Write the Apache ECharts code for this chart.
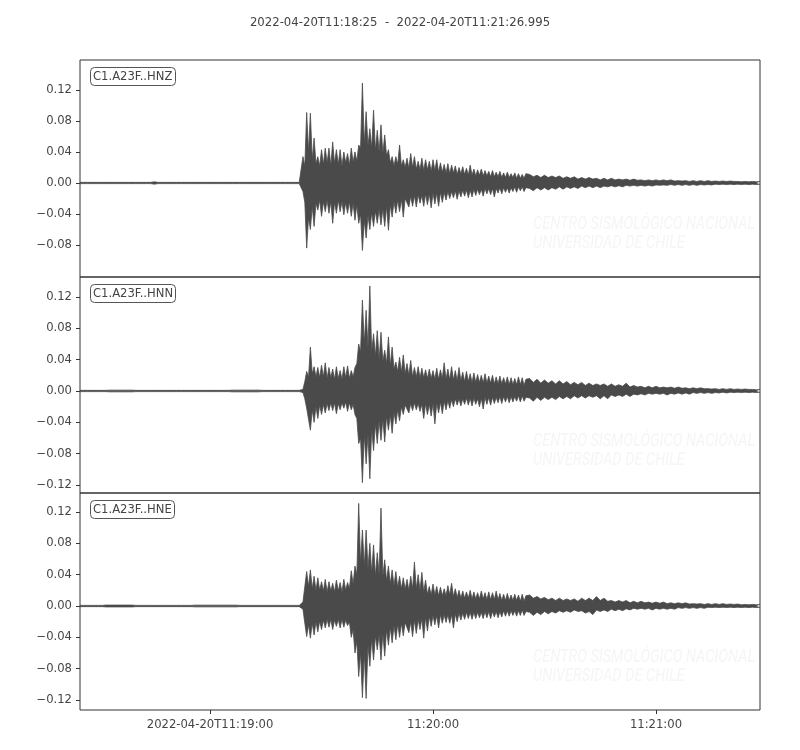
<!DOCTYPE html>
<html><head><meta charset="utf-8">
<script src="https://cdn.jsdelivr.net/npm/echarts@6/dist/echarts.min.js"></script>
<style>html,body{margin:0;padding:0;background:#fff}#c{width:800px;height:750px}</style>
</head><body><div id="c"></div>
<script>
// ---- DATA (amplitude peaks, in thousandths of the plotted unit) ----
const titleText = '2022-04-20T11:18:25  -  2022-04-20T11:21:26.995';
const traceNames = ['C1.A23F..HNZ', 'C1.A23F..HNN', 'C1.A23F..HNE'];
// sampling grid in seconds after 11:18:25: [from, to, step]
const sampleSegments = [[0, 57, 1], [58, 120, 0.5], [121, 183, 1]];
const durationSec = 182.995;
const xTickSec = [35, 95, 155];
const xTickLabels = ['2022-04-20T11:19:00', '11:20:00', '11:21:00'];
const yTicks1 = [-0.08, -0.04, 0, 0.04, 0.08, 0.12];
const yTicks2 = [-0.12, -0.08, -0.04, 0, 0.04, 0.08, 0.12];
const yTicks3 = [-0.12, -0.08, -0.04, 0, 0.04, 0.08, 0.12];
const yRange1 = [-0.1213, 0.1587];
const yRange2 = [-0.1302, 0.1455];
const yRange3 = [-0.1328, 0.1443];

const hnzUpper = [
0.8,0.8,0.8,0.8,0.8,0.8,0.8,0.8,0.8,0.8,
0.8,0.8,0.8,0.8,0.8,0.8,0.8,0.8,0.8,0.8,
1.5,0.8,0.8,0.8,0.8,0.8,0.8,0.8,0.8,0.8,
0.8,0.8,0.8,0.8,0.8,0.8,0.8,0.8,0.8,0.8,
0.8,0.8,0.8,0.8,0.8,0.8,0.8,0.8,0.8,0.8,
0.8,0.8,0.8,0.8,0.8,0.8,0.8,0.8,
0.8,0.8,0.8,3,34,22,91,40,90,30,
58,25,34,22,43,24,45,26,45,22,
53,25,43,24,43,22,40,26,38,23,
45,27,40,28,49,45,129,50,92,48,
70,45,94,42,68,40,75,38,62,35,
43,26,34,22,34,24,49,22,30,20,
32,19,38,20,34,18,28,17,32,16,
30,17,28,15,30,16,30,14,26,14,
24,13,25,12,23,13,22,11,20,12,
21,11,19,10,23,10,18,9,17,10,
18,9,16,9,15,8,16,8,14,8,
15,7,13,7,14,7,12,7,13,6,
12,6,11,6,12,
11,8,10,7,10,7,9,7,9,6,
8,6,8,5,7,5,7,5,6,4,
6,4,6,4,5,4,5,3.5,5,3.5,
4,3,4,3,4,3,4,3,4,2.5,
3,2.5,3,2,3,2,3,2,3,2,
2.5,2,2.5,2,2.5,2,2,1.5,2,1.5,
2,1.5,2];
const hnzLower = [
-0.8,-0.8,-0.8,-0.8,-0.8,-0.8,-0.8,-0.8,-0.8,-0.8,
-0.8,-0.8,-0.8,-0.8,-0.8,-0.8,-0.8,-0.8,-0.8,-0.8,
-1.5,-0.8,-0.8,-0.8,-0.8,-0.8,-0.8,-0.8,-0.8,-0.8,
-0.8,-0.8,-0.8,-0.8,-0.8,-0.8,-0.8,-0.8,-0.8,-0.8,
-0.8,-0.8,-0.8,-0.8,-0.8,-0.8,-0.8,-0.8,-0.8,-0.8,
-0.8,-0.8,-0.8,-0.8,-0.8,-0.8,-0.8,-0.8,
-0.8,-0.8,-0.8,-2,-11,-25,-84,-45,-60,-30,
-56,-26,-35,-22,-43,-24,-37,-22,-39,-24,
-52,-25,-39,-22,-37,-24,-41,-25,-39,-24,
-43,-26,-48,-28,-52,-40,-87,-48,-71,-42,
-60,-38,-56,-36,-52,-34,-54,-33,-56,-30,
-61,-28,-44,-24,-39,-22,-37,-21,-44,-20,
-18,-31,-17,-30,-16,-31,-15,-26,-16,-30,
-14,-28,-14,-32,-13,-27,-13,-30,-12,-25,
-12,-22,-11,-20,-11,-19,-10,-21,-10,-18,
-9,-17,-9,-19,-9,-18,-8,-16,-8,-15,
-8,-17,-7,-14,-7,-15,-7,-18,-7,-13,
-6,-14,-6,-12,-6,-13,-6,-11,-5,-12,
-5,-10,-5,-11,-6,
-7,-10,-6,-9,-6,-9,-6,-8,-5,-8,
-5,-7,-5,-7,-4,-6,-4,-6,-4,-6,
-4,-5,-3.5,-5,-3.5,-5,-3,-4,-3,-4,
-3,-4,-3,-4,-2.5,-3,-2.5,-3,-2,-3,
-2,-3,-2,-3,-2,-3,-2,-2.5,-2,-2.5,
-1.5,-2,-1.5,-2,-1.5,-2,-1.5,-2,-1.5,-2,
-1.5,-2,-1.5];

const hnnUpper = [
0.8,0.8,0.8,0.8,0.8,0.8,0.8,0.8,1.1,1.1,
1.1,1.1,1.1,1.1,1.1,0.8,0.8,0.8,0.8,0.8,
0.8,0.8,0.8,0.8,0.8,0.8,0.8,0.8,0.8,0.8,
0.8,0.8,0.8,0.8,0.8,0.8,0.8,0.8,0.8,0.8,
0.8,1.1,1.1,1.1,1.1,1.1,1.1,1.1,1.1,0.8,
0.8,0.8,0.8,0.8,0.8,0.8,0.8,0.8,
0.8,0.8,0.8,0.8,2,12,25,18,56,22,
31,18,30,17,33,18,36,16,30,17,
28,15,31,16,26,15,31,17,32,16,
26,18,30,35,60,50,116,60,103,55,
134,50,73,45,77,40,75,38,52,35,
69,32,56,28,37,25,43,24,46,22,
35,20,39,18,30,18,31,17,29,17,
27,16,28,16,26,15,29,15,27,16,
36,15,28,14,31,14,26,13,30,13,
24,12,25,12,22,11,23,11,21,11,
20,10,22,10,19,10,20,9,18,9,
19,9,17,9,18,8,17,8,16,8,
18,8,17,7,15,
16,11,15,10,14,10,13,9,13,9,
12,8,11,8,11,7,10,7,9,7,
9,6,9,6,8,6,10,5,7,5,
6,4,6,4,6,4,5,4,5,3.5,
5,3.5,4,3,4,3,4,3,3,2.5,
3,2,3,2,3,2,2.5,2,2.5,2,
2,1.5,2];
const hnnLower = [
-0.8,-0.8,-0.8,-0.8,-0.8,-0.8,-0.8,-0.8,-1.1,-1.1,
-1.1,-1.1,-1.1,-1.1,-1.1,-0.8,-0.8,-0.8,-0.8,-0.8,
-0.8,-0.8,-0.8,-0.8,-0.8,-0.8,-0.8,-0.8,-0.8,-0.8,
-0.8,-0.8,-0.8,-0.8,-0.8,-0.8,-0.8,-0.8,-0.8,-0.8,
-0.8,-1.1,-1.1,-1.1,-1.1,-1.1,-1.1,-1.1,-1.1,-0.8,
-0.8,-0.8,-0.8,-0.8,-0.8,-0.8,-0.8,-0.8,
-0.8,-0.8,-0.8,-0.8,-2,-10,-22,-20,-50,-24,
-40,-20,-35,-18,-30,-17,-28,-16,-25,-15,
-25,-15,-29,-16,-24,-15,-22,-14,-26,-15,
-24,-17,-30,-35,-67,-60,-117,-55,-93,-55,
-112,-48,-76,-42,-67,-38,-63,-36,-65,-32,
-50,-30,-54,-27,-42,-24,-38,-20,-30,-18,
-17,-28,-16,-25,-15,-24,-16,-26,-17,-35,
-16,-30,-17,-32,-16,-42,-15,-28,-14,-29,
-13,-24,-12,-22,-11,-20,-10,-18,-10,-19,
-10,-17,-9,-18,-9,-19,-9,-17,-10,-20,
-9,-23,-8,-17,-8,-18,-8,-16,-8,-15,
-7,-16,-7,-14,-7,-15,-7,-14,-7,-13,
-6,-14,-6,-13,-8,
-9,-13,-8,-12,-8,-11,-8,-11,-7,-10,
-7,-10,-6,-9,-6,-9,-6,-8,-6,-10,
-6,-10,-5,-7,-5,-7,-4,-7,-4,-5,
-3.5,-5,-3,-4,-3,-4,-3,-5,-3,-4,
-2.5,-4,-2.5,-4,-2,-3,-2,-3,-2,-3,
-2,-2.5,-1.5,-2.5,-1.5,-2,-1.5,-2,-1.5,-2,
-1.5,-2,-1.5];

const hneUpper = [
0.8,0.8,0.8,0.8,0.8,0.8,0.8,1.2,1.2,1.2,
1.2,1.2,1.2,1.2,1.2,0.8,0.8,0.8,0.8,0.8,
0.8,0.8,0.8,0.8,0.8,0.8,0.8,0.8,0.8,0.8,
0.8,1.1,1.1,1.1,1.1,1.1,1.1,1.1,1.1,1.1,
1.1,1.1,1.1,0.8,0.8,0.8,0.8,0.8,0.8,0.8,
0.8,0.8,0.8,0.8,0.8,0.8,0.8,0.8,
0.8,0.8,0.8,0.8,5,25,44,25,46,22,
38,20,36,20,31,19,34,18,31,19,
29,18,33,19,30,18,34,20,30,22,
45,28,51,40,131,55,97,50,97,48,
80,42,78,38,68,40,125,38,59,32,
51,28,46,26,44,24,38,22,36,21,
34,20,38,22,56,22,40,20,43,18,
33,15,25,14,28,14,25,13,24,13,
22,13,26,14,29,12,22,11,20,10,
19,10,18,10,20,9,18,9,17,9,
19,9,17,8,18,8,17,8,19,8,
16,7,15,7,16,7,14,7,15,7,
14,6,15,6,13,
14,10,12,9,11,8,10,7,10,7,
9,7,9,6,10,7,10,7,12,7,
10,6,7,5,7,5,7,4,6,4,
6,4,5,3.5,5,3.5,5,3,4,3,
4,3,4,2.5,3,2.5,3,2,3,2,
3,2,3,2,2.5,2,2.5,1.5,2,1.5,
2,1.5,2];
const hneLower = [
-0.8,-0.8,-0.8,-0.8,-0.8,-0.8,-0.8,-1.2,-1.2,-1.2,
-1.2,-1.2,-1.2,-1.2,-1.2,-0.8,-0.8,-0.8,-0.8,-0.8,
-0.8,-0.8,-0.8,-0.8,-0.8,-0.8,-0.8,-0.8,-0.8,-0.8,
-0.8,-1.1,-1.1,-1.1,-1.1,-1.1,-1.1,-1.1,-1.1,-1.1,
-1.1,-1.1,-1.1,-0.8,-0.8,-0.8,-0.8,-0.8,-0.8,-0.8,
-0.8,-0.8,-0.8,-0.8,-0.8,-0.8,-0.8,-0.8,
-0.8,-0.8,-0.8,-0.8,-4,-22,-39,-24,-41,-22,
-37,-20,-33,-19,-30,-18,-28,-17,-27,-17,
-30,-18,-26,-17,-28,-17,-27,-18,-25,-20,
-40,-30,-60,-45,-90,-60,-117,-60,-118,-50,
-77,-42,-69,-38,-56,-36,-69,-35,-64,-30,
-50,-27,-47,-25,-43,-23,-40,-22,-38,-21,
-20,-34,-20,-39,-18,-35,-17,-30,-16,-41,
-14,-32,-13,-26,-12,-24,-12,-28,-11,-22,
-11,-21,-11,-22,-11,-28,-10,-20,-9,-18,
-9,-17,-8,-16,-8,-17,-8,-16,-8,-15,
-8,-16,-7,-15,-7,-16,-7,-14,-7,-15,
-7,-14,-6,-13,-6,-13,-6,-12,-6,-13,
-6,-12,-5,-12,-7,
-8,-12,-8,-11,-7,-10,-7,-9,-6,-8,
-6,-8,-5,-7,-6,-9,-7,-11,-5,-7,
-5,-7,-4,-6,-4,-6,-3.5,-5,-3,-4,
-3,-4,-3,-5,-3,-4,-3,-4,-3,-4,
-2,-3,-2,-3,-2,-3,-2,-3,-1.5,-2,
-1.5,-2,-1.5,-2,-1.5,-2,-1.5,-2,-1.5,-2,
-1.5,-2,-1.5];

// ---- CHART ----
const sampleTimes = [];
sampleSegments.forEach(([a, b, s]) => { for (let t = a; t <= b + 1e-9; t += s) sampleTimes.push(+t.toFixed(3)); });

const traces = [
  {upper: hnzUpper, lower: hnzLower, ticks: yTicks1, range: yRange1},
  {upper: hnnUpper, lower: hnnLower, ticks: yTicks2, range: yRange2},
  {upper: hneUpper, lower: hneLower, ticks: yTicks3, range: yRange3}
];
const gridTops = [60, 277, 493];
const gridHeights = [217, 216, 217];
const waveColor = '#4a4a4a';
const textColor = '#444';
const font = 'DejaVu Sans';

function toPoints(arr) { return arr.map((v, i) => [sampleTimes[i], v / 1000]); }
function fmtY(v) {
  const s = Math.abs(v).toFixed(2);
  return v < -1e-9 ? '\u2212' + s : s;
}

// watermark text condensing
const wmFont = 'italic 18px Roboto';
const mctx = document.createElement('canvas').getContext('2d');
mctx.font = wmFont;
const wm1 = 'CENTRO SISMOLÓGICO NACIONAL', wm2 = 'UNIVERSIDAD DE CHILE';
const wmScale = 222 / mctx.measureText(wm1).width;

const chart = echarts.init(document.getElementById('c'), null, {renderer: 'canvas'});
const grids = [], xAxes = [], yAxes = [], series = [];
const titles = [{
  text: titleText, left: 'center', top: 12,
  textStyle: {fontSize: 11.7, fontWeight: 'normal', color: textColor, fontFamily: font}
}];
const graphics = [];

traces.forEach((tr, i) => {
  grids.push({left: 80, width: 680, top: gridTops[i], height: gridHeights[i],
    show: true, borderColor: '#333', borderWidth: 1, backgroundColor: 'transparent'});
  const last = i === 2;
  xAxes.push({
    gridIndex: i, type: 'value', min: 0, max: durationSec, position: 'bottom',
    axisLine: {show: false, onZero: false}, splitLine: {show: false},
    axisTick: {show: last, customValues: xTickSec, length: 4, lineStyle: {color: '#333'}},
    axisLabel: {show: last, customValues: xTickSec, color: textColor, fontSize: 11.6, fontFamily: font, margin: 9,
      formatter: v => xTickLabels[xTickSec.indexOf(Math.round(v))] || ''}
  });
  yAxes.push({
    gridIndex: i, type: 'value', min: tr.range[0], max: tr.range[1], position: 'left',
    axisLine: {show: false, onZero: false}, splitLine: {show: false},
    axisTick: {show: true, customValues: tr.ticks, length: 4, lineStyle: {color: '#333'}},
    axisLabel: {customValues: tr.ticks, color: textColor, fontSize: 11.6, fontFamily: font, margin: 8, formatter: fmtY}
  });
  [tr.upper, tr.lower].forEach(arr => {
    series.push({
      type: 'line', xAxisIndex: i, yAxisIndex: i, data: toPoints(arr),
      showSymbol: false, symbol: 'none', silent: true, animation: false,
      lineStyle: {color: waveColor, width: 0.8},
      areaStyle: {color: waveColor, opacity: 1, origin: 0},
      z: 3
    });
  });
  titles.push({
    text: traceNames[i], left: 90, top: gridTops[i] + 7,
    backgroundColor: '#fff', borderColor: '#555', borderWidth: 1, borderRadius: 4, padding: [2, 3],
    textStyle: {fontSize: 11.6, fontWeight: 'normal', color: textColor, fontFamily: font, lineHeight: 15}
  });
  const wy = gridTops[i] + 155;
  graphics.push({type: 'text', x: 533, y: wy, scaleX: wmScale, z: 0, silent: true,
    style: {text: wm1, fill: '#f5f5f5', font: wmFont, align: 'left', verticalAlign: 'top'}});
  graphics.push({type: 'text', x: 533, y: wy + 19, scaleX: wmScale, z: 0, silent: true,
    style: {text: wm2, fill: '#f5f5f5', font: wmFont, align: 'left', verticalAlign: 'top'}});
});

chart.setOption({
  animation: false,
  backgroundColor: '#fff',
  title: titles,
  grid: grids, xAxis: xAxes, yAxis: yAxes, series: series,
  graphic: graphics
});
</script></body></html>
